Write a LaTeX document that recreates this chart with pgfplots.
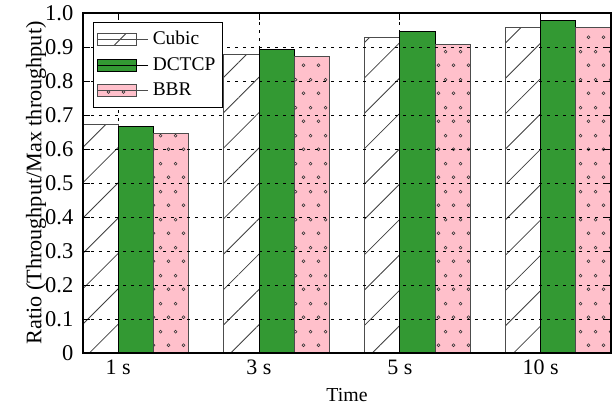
\documentclass[border=0pt]{standalone}
\usepackage{fontspec}
\setmainfont{Liberation Serif}
\usepackage{pgfplots}
\pgfplotsset{compat=1.18}
\usetikzlibrary{patterns,patterns.meta}

% staggered small rings for the BBR bars
\pgfdeclarepatternformonly{bbrdots}{\pgfqpoint{0pt}{0pt}}{\pgfqpoint{7.5pt}{14pt}}{\pgfqpoint{7.5pt}{14pt}}{%
  \pgfsetlinewidth{0.3pt}%
  \pgfpathcircle{\pgfqpoint{1.875pt}{3.5pt}}{0.75pt}\pgfusepath{stroke}%
  \pgfpathcircle{\pgfqpoint{5.625pt}{10.5pt}}{0.75pt}\pgfusepath{stroke}%
}

\definecolor{dctcpgreen}{RGB}{51,153,51}
\definecolor{bbrpink}{RGB}{255,192,203}

\begin{document}
\begin{tikzpicture}
\begin{axis}[
  scale only axis, width=264pt, height=170pt,
  xmin=-0.25, xmax=3.5, ymin=0, ymax=1,
  axis on top,
  /pgf/number format/assume math mode=true,
  xtick={0,1,2,3},
  xticklabels={1 s,3 s,5 s,10 s},
  ytick={0,0.1,0.2,0.3,0.4,0.5,0.6,0.7,0.8,0.9,1.0},
  yticklabels={0,0.1,0.2,0.3,0.4,0.5,0.6,0.7,0.8,0.9,1.0},
  tick align=inside, major tick length=3.5pt,
  tick style={black, line width=0.5pt},
  xmajorgrids, ymajorgrids,
  grid style={black, line width=0.5pt, dash pattern=on 1.5pt off 2.5pt},
  axis line style={black, line width=0.6pt},
  yticklabel style={font=\rmfamily\fontsize{11.25}{12}\selectfont, xshift=-1.3pt},
  xticklabel style={font=\rmfamily\fontsize{11}{12}\selectfont},
  ylabel={Ratio (Throughput/Max throughput)},
  xlabel={Time},
  every axis y label/.style={at={(axis description cs:-0.089,0.5)}, rotate=90, anchor=center, font=\rmfamily\fontsize{11.1}{12}\selectfont},
  every axis x label/.style={at={(axis description cs:0.5,-0.1235)}, anchor=center, font=\rmfamily\fontsize{9.9}{11}\selectfont},
  legend style={at={(0,1)}, anchor=north west, xshift=5pt, yshift=-4.5pt,
    draw=black, line width=0.6pt, fill=white, inner xsep=1.6pt, inner ysep=2.4pt,
    font=\rmfamily\fontsize{9.7}{11}\selectfont, row sep=0.8pt,
    cells={anchor=west}},
  legend image code/.code={%
    \draw[#1, line width=0.5pt] (0pt,-3pt) rectangle (19.5pt,3pt);
    \path (0pt,0pt) -- (25.5pt,0pt);},
]
\addplot[ybar, bar width=0.25, bar shift=0pt, draw=black!70, line width=0.5pt, fill=white,
  postaction={pattern color=black!75, pattern={Lines[angle=45,distance=12.5pt,line width=0.4pt]}}]
  coordinates {(-0.125,0.671) (0.875,0.879) (1.875,0.928) (2.875,0.957)};
\addlegendentry{Cubic}
\addplot[ybar, bar width=0.25, bar shift=0pt, draw=black, line width=0.5pt, fill=dctcpgreen]
  coordinates {(0.125,0.665) (1.125,0.892) (2.125,0.945) (3.125,0.977)};
\addlegendentry{DCTCP}
\addplot[ybar, bar width=0.25, bar shift=0pt, draw=black!70, line width=0.5pt, fill=bbrpink,
  postaction={pattern color=black!80, pattern=bbrdots}]
  coordinates {(0.375,0.647) (1.375,0.871) (2.375,0.906) (3.375,0.957)};
\addlegendentry{BBR}
\end{axis}
\pgfresetboundingbox
\path[use as bounding box] (current axis.south west) ++(-41.5pt,-27pt) rectangle ([shift={(0.5pt,6.5pt)}]current axis.north east);
\end{tikzpicture}
\end{document}
